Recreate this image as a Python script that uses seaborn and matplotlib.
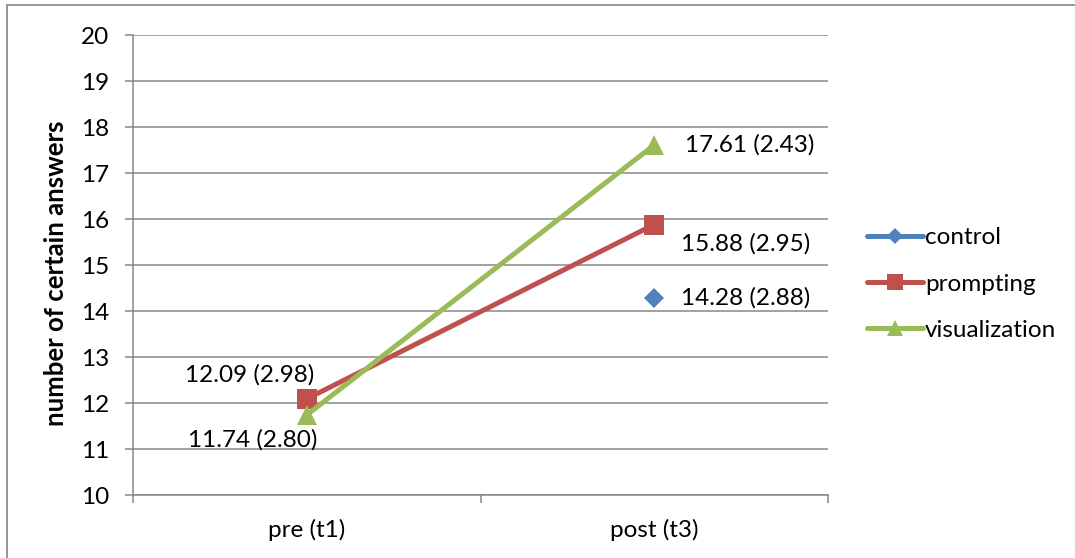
import numpy as np
import pandas as pd
import seaborn as sns
import matplotlib.pyplot as plt
from matplotlib.lines import Line2D
from matplotlib.patches import Rectangle
from matplotlib.ticker import FixedLocator

# Measurement points and group means (SD in brackets)
timepoints = ["pre (t1)", "post (t3)"]
groups = ["control", "prompting", "visualization"]
control_mean = [np.nan, 14.28]
prompting_mean = [12.09, 15.88]
visualization_mean = [11.74, 17.61]
control_sd = [np.nan, 2.88]
prompting_sd = [2.98, 2.95]
visualization_sd = [2.80, 2.43]

means = {"control": control_mean, "prompting": prompting_mean,
         "visualization": visualization_mean}
sds = {"control": control_sd, "prompting": prompting_sd,
       "visualization": visualization_sd}

df = pd.DataFrame({
    "time": timepoints * len(groups),
    "group": np.repeat(groups, len(timepoints)),
    "answers": control_mean + prompting_mean + visualization_mean,
})
df["time"] = pd.Categorical(df["time"], categories=timepoints, ordered=True)

colors = {"control": "#4F81BD", "prompting": "#C0504D", "visualization": "#9BBB59"}
markers = {"control": "D", "prompting": "s", "visualization": "^"}
msizes = {"control": 10.5, "prompting": 14, "visualization": 14}

sns.set_theme(style="white")
plt.rcParams["font.family"] = ["Lato", "DejaVu Sans"]
for key in ["text.color", "axes.labelcolor", "xtick.labelcolor", "ytick.labelcolor"]:
    plt.rcParams[key] = "black"
grid_c = "#878787"
fs = 17.5

fig = plt.figure(figsize=(10.75, 5.58), dpi=100)
ax = fig.add_axes([133 / 1075, 1 - 495 / 558, 695 / 1075, 460 / 558])

sns.lineplot(data=df, x="time", y="answers", hue="group", hue_order=groups,
             style="group", style_order=groups, markers=markers, dashes=False,
             palette=colors, linewidth=3.6, markeredgewidth=0, sort=False,
             legend=False, ax=ax)

for line, g in zip(ax.get_lines(), groups):
    line.set_markersize(msizes[g])

# value labels
offsets = {
    ("prompting", 0): ((-41, 17), "center"),
    ("visualization", 0): ((-39, -18), "center"),
    ("visualization", 1): ((22, 0), "left"),
    ("prompting", 1): ((19, -14), "left"),
    ("control", 1): ((19, 0), "left"),
}
for (g, i), (off, ha) in offsets.items():
    m, s = means[g][i], sds[g][i]
    ax.annotate(f"{m:.2f} ({s:.2f})", xy=(i, m), xytext=off,
                textcoords="offset points", ha=ha, va="center",
                fontsize=fs, color="black")

ax.set_xlim(-0.5, 1.5)
ax.set_ylim(10, 20)
ax.set_yticks(np.arange(10, 21, 1))
ax.yaxis.grid(True, color=grid_c, linewidth=1.1)
ax.set_axisbelow(True)
ax.xaxis.set_minor_locator(FixedLocator([-0.5, 0.5, 1.5]))
ax.tick_params(axis="x", which="major", length=0, pad=17, labelsize=fs)
ax.tick_params(axis="x", which="minor", length=6, width=1.1, color=grid_c,
               direction="out", bottom=True)
ax.tick_params(axis="y", length=6, width=1.1, color=grid_c, direction="out",
               left=True, pad=11, labelsize=fs)
for side in ["top", "right"]:
    ax.spines[side].set_visible(False)
for side in ["left", "bottom"]:
    ax.spines[side].set_color(grid_c)
    ax.spines[side].set_linewidth(1.1)
ax.set_xlabel("")
ax.set_ylabel("number of certain answers", fontsize=18.5, fontweight="bold")
ax.yaxis.set_label_coords((68 - 133) / 695, (495 - 273) / 460)

handles = [Line2D([0], [0], color=colors[g], lw=3.6, marker=markers[g],
                  markersize=msizes[g] * 0.8, markeredgewidth=0) for g in groups]
fig.legend(handles, groups, loc="center left",
           bbox_to_anchor=(857 / 1075, 1 - 284 / 558), frameon=False,
           fontsize=fs, handlelength=2.3, handletextpad=0.1,
           labelspacing=1.04, borderaxespad=0)

fig.add_artist(Rectangle((7 / 1075, -0.01), 1.2, 1 - 5 / 558 + 0.01,
                         transform=fig.transFigure, fill=False,
                         edgecolor="#8c8c8c", linewidth=1.3))

fig.savefig("out.png", dpi=100)
